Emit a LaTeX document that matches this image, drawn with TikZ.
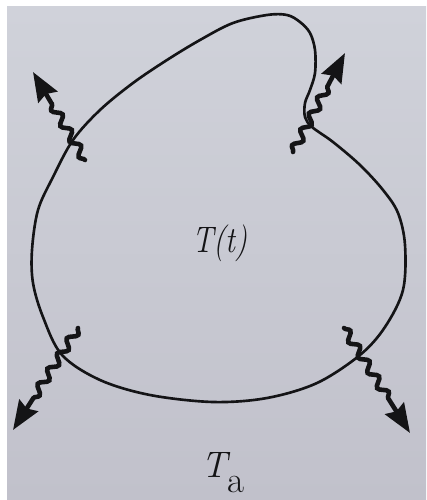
\documentclass[tikz,border=0pt]{standalone}
\usetikzlibrary{arrows.meta,decorations.pathmorphing}
\definecolor{bgtop}{RGB}{208,210,218}
\definecolor{bgbot}{RGB}{193,193,203}
\definecolor{ink}{RGB}{20,20,22}
\tikzset{
  boundary/.style={draw=ink, line width=1.5pt},
  wavyarrow/.style={draw=ink, line width=2.6pt, line cap=round,
    decorate, decoration={snake, amplitude=0.08cm, segment length=0.36cm, post length=0.64cm},
    -{Stealth[length=0.58cm, width=0.44cm, inset=0.07cm]}},
  lbl/.style={font=\fontsize{21}{24}\selectfont, text=ink, inner sep=0pt}
}
\begin{document}
\begin{tikzpicture}[x=0.02cm,y=-0.02cm]
\useasboundingbox (0,0) rectangle (426,500);
\fill[white] (0,0) rectangle (426,500);
\shade[top color=bgtop, bottom color=bgbot] (7,7) rectangle (426,500);
% closed boundary
\draw[boundary] plot[smooth cycle, tension=0.55] coordinates {
 (73,140) (100,110) (133,83) (167,60) (200,40) (233,23) (267,15) (287,15)
 (300,22) (310,33) (315,50) (315,73) (310,90) (305,103) (305,117) (312,127)
 (333,142) (360,165) (383,190) (398,213) (405,245) (403,290) (385,327)
 (360,355) (317,383) (267,398) (213,402) (150,395) (100,380) (62,355)
 (43,317) (33,283) (32,250) (38,210) (53,177)};
% arrow endpoints
\coordinate (a1s) at (85,160);  \coordinate (a1e) at (33,72);
\coordinate (a2s) at (293,152); \coordinate (a2e) at (345,53);
\coordinate (a3s) at (78,328);  \coordinate (a3e) at (13,430);
\coordinate (a4s) at (344,328); \coordinate (a4e) at (410,433);
\draw[wavyarrow] (a1s) -- (a1e);
\draw[wavyarrow] (a2s) -- (a2e);
\draw[wavyarrow] (a3s) -- (a3e);
\draw[wavyarrow] (a4s) -- (a4e);
% labels
\node[lbl, anchor=base] (Tt) at (220,252) {\scalebox{0.82}[1]{\textit{T(t)}}};
\node[lbl, anchor=base west] (Ta) at (201,477) {\textit{T}\kern-0.07cm\raisebox{-0.3cm}{a}};
\end{tikzpicture}
\end{document}
